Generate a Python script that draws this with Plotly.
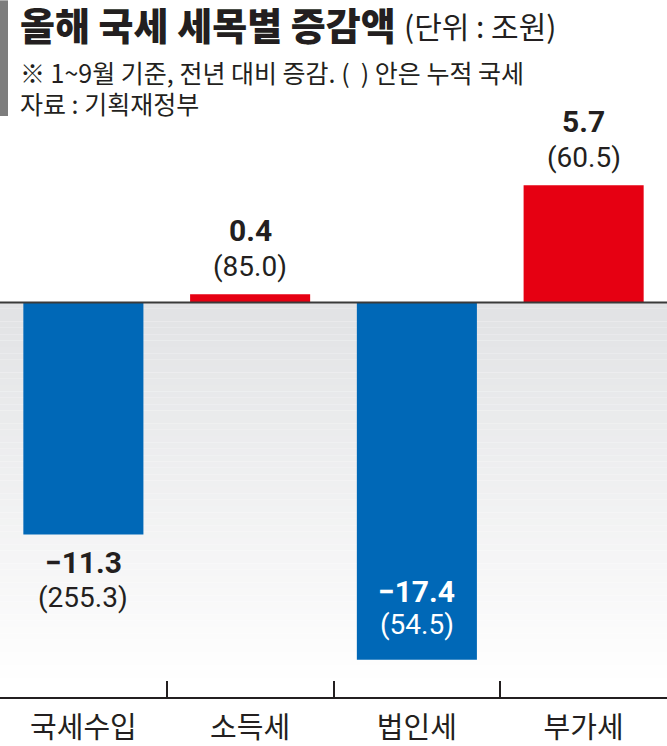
import plotly.graph_objects as go

categories = ["국세수입", "소득세", "법인세", "부가세"]
change = [-11.3, 0.4, -17.4, 5.7]
cumulative = [255.3, 85.0, 54.5, 60.5]
change_text = ["−11.3", "0.4", "−17.4", "5.7"]
label_inside = [False, False, True, False]

W, H = 667, 746
TOP, BOTTOM = 110, 699          # plot area in pixels
Y_RANGE = [-19.22, 9.37]
KR = "Noto Sans CJK KR"
NUM = "Roboto, Noto Sans CJK KR, sans-serif"
INK = "#231f20"
BLUE = "#0068b7"
RED = "#e60012"


def py(pix):
    # pixel row -> paper y
    return (BOTTOM - pix) / (BOTTOM - TOP)


colors = [RED if v > 0 else BLUE for v in change]

fig = go.Figure(go.Bar(
    x=categories, y=change, marker_color=colors, marker_line_width=0,
    width=0.72, hoverinfo="skip",
))

shapes = []
# soft grey gradient under the zero line
steps = 60
g_bottom = -18.6
for i in range(steps):
    t = i / (steps - 1)
    c = [int(a + (255 - a) * t) for a in (226, 227, 229)]
    shapes.append(dict(
        type="rect", xref="paper", yref="y", layer="below", line_width=0,
        x0=0, x1=1, y0=g_bottom * i / steps, y1=g_bottom * (i + 1) / steps,
        fillcolor=f"rgb({c[0]},{c[1]},{c[2]})",
    ))
# zero line
shapes.append(dict(type="line", xref="paper", yref="y", x0=0, x1=1, y0=0, y1=0,
                   line=dict(color="#3a3a3a", width=2)))
# grey accent bar next to the title
shapes.append(dict(type="rect", xref="paper", yref="paper", x0=0, x1=8 / W,
                   y0=py(116), y1=py(0), fillcolor="#7d7d7d", line_width=0))

ann = []
for cat, v, vt, cum, inside in zip(categories, change, change_text, cumulative, label_inside):
    if v > 0:
        s1, s2, col = 64, 28, INK
    elif inside:
        s1, s2, col = 68, 35, "white"
    else:
        s1, s2, col = -28, -63, INK
    ann.append(dict(x=cat, y=v, text=vt, showarrow=False, yshift=s1,
                    yanchor="middle", font=dict(family=NUM, size=30, color=col, weight=700)))
    ann.append(dict(x=cat, y=v, text=f"({cum:.1f})", showarrow=False, yshift=s2,
                    yanchor="middle", font=dict(family=NUM, size=28, color=col)))

ann.append(dict(xref="paper", yref="paper", x=18 / W, y=py(23), xanchor="left", yanchor="middle",
                showarrow=False, text="올해 국세 세목별 증감액",
                font=dict(family=KR, size=38, color=INK, weight=900)))
ann.append(dict(xref="paper", yref="paper", x=402 / W, y=py(25), xanchor="left", yanchor="middle",
                showarrow=False, text="(단위 : 조원)",
                font=dict(family=KR, size=30, color=INK)))
ann.append(dict(xref="paper", yref="paper", x=18 / W, y=py(72), xanchor="left", yanchor="middle",
                showarrow=False, text="※ 1~9월 기준, 전년 대비 증감. (  ) 안은 누적 국세",
                font=dict(family=KR, size=25, color=INK)))
ann.append(dict(xref="paper", yref="paper", x=18 / W, y=py(103), xanchor="left", yanchor="middle",
                showarrow=False, text="자료 : 기획재정부",
                font=dict(family=KR, size=25, color=INK)))

fig.update_layout(
    width=W, height=H,
    margin=dict(l=0, r=0, t=TOP, b=H - BOTTOM),
    paper_bgcolor="white", plot_bgcolor="white",
    showlegend=False, shapes=shapes, annotations=ann, bargap=0.28,
)
fig.update_xaxes(
    showline=True, linecolor=INK, linewidth=2, mirror=False,
    ticks="inside", tickson="boundaries", ticklen=16, tickwidth=1.5, tickcolor=INK,
    tickfont=dict(family=KR, size=29, color=INK), ticklabelstandoff=4, showgrid=False,
    range=[-0.5, 3.5], fixedrange=True,
)
fig.update_yaxes(visible=False, range=Y_RANGE, showgrid=False, zeroline=False, fixedrange=True)

fig.write_html("out.html", config={"displayModeBar": False},
               post_script="document.body.style.margin='0';")
